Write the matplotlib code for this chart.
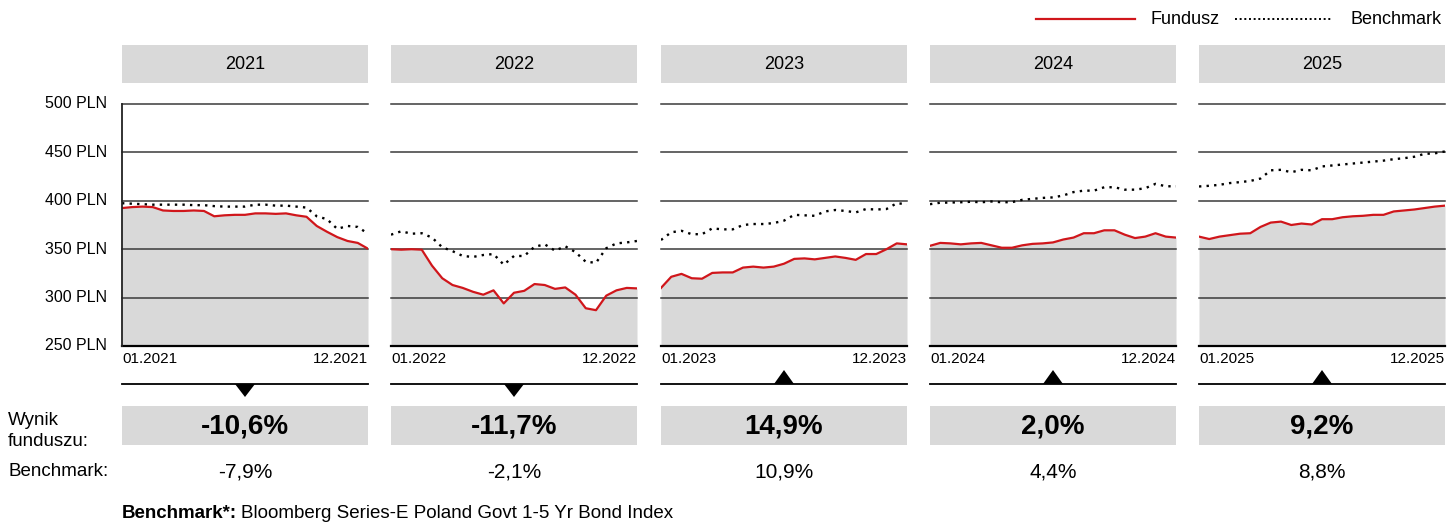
import numpy as np
import matplotlib
matplotlib.use('Agg')
import matplotlib.pyplot as plt
from matplotlib.patches import Rectangle, Polygon

plt.rcParams['font.family'] = ['Liberation Sans', 'DejaVu Sans']

# --- dane ---
years = ['2021', '2022', '2023', '2024', '2025']
start_labels = ['01.2021', '01.2022', '01.2023', '01.2024', '01.2025']
end_labels = ['12.2021', '12.2022', '12.2023', '12.2024', '12.2025']
fund_result = ['-10,6%', '-11,7%', '14,9%', '2,0%', '9,2%']
bench_result = ['-7,9%', '-2,1%', '10,9%', '4,4%', '8,8%']
y_ticks = [250, 300, 350, 400, 450, 500]

# co pół miesiąca (0 .. 12)
months = np.arange(0, 12.5, 0.5)

fund_2021 = [392.5, 393.5, 394, 393.5, 390, 389.5, 389.5, 390, 389.5, 384, 385, 385.5, 385.5,
             387, 387, 386.5, 387, 385, 383.5, 374, 368, 362.5, 358.5, 356.5, 350.5]
bench_2021 = [397.5, 397, 396.5, 396, 396, 396, 396, 395.5, 395.5, 394.5, 394, 394, 394,
              396, 396, 395, 395, 394, 393, 384, 381, 371, 374, 373, 366]

fund_2022 = [350, 349.5, 350, 349.5, 333, 320, 313, 310, 306, 303, 307.5, 294, 305,
             307, 314, 313, 309, 310.5, 303, 289, 287, 302, 307.5, 310, 309.5]
bench_2022 = [365, 368.5, 366, 366.5, 362, 352, 348, 343, 342, 344, 345, 334, 343,
              343, 352.5, 355, 348.5, 353, 347, 337, 336, 351, 356, 357, 358.5]

fund_2023 = [310, 321.5, 324.5, 320, 319.5, 325.5, 326, 326, 331, 332, 331, 332, 335,
             340, 340.5, 339.5, 341, 342.5, 341, 339, 345, 345, 350, 356, 355]
bench_2023 = [359.5, 367.5, 369, 365.5, 365.5, 371.5, 370.5, 370.5, 375, 376, 376, 377, 379.5,
              385.5, 385, 384.5, 389, 390.5, 389.5, 388, 391.5, 391, 391.5, 397.5, 396.5]

fund_2024 = [353.5, 356.5, 356, 355, 356, 356.5, 354, 351.5, 351.5, 354, 355.5, 356, 357,
             360, 362, 366.5, 366.5, 369.5, 369.5, 365, 361.5, 363, 366.5, 363, 362]
bench_2024 = [396.5, 398, 398.2, 398.5, 399, 398.5, 399.3, 398.5, 398.6, 401, 402, 403, 403.5,
              405.5, 409, 410.5, 410.5, 414, 414, 411.5, 411.5, 413, 417.5, 415, 415]

fund_2025 = [363, 360.5, 363, 364.5, 366, 366.5, 373, 377.5, 378.5, 375, 376.5, 375.5, 381,
             381, 383, 384, 384.5, 385.5, 385.5, 389, 390, 391, 392.5, 394, 395]
bench_2025 = [414.8, 415.5, 416.5, 418.3, 419.3, 420.5, 423, 431.5, 432, 429.5, 432, 431.5, 435.5,
              436.5, 437.5, 438.5, 439.5, 440.5, 441.5, 443, 444, 445.5, 448.5, 449, 451]

fund = [fund_2021, fund_2022, fund_2023, fund_2024, fund_2025]
bench = [bench_2021, bench_2022, bench_2023, bench_2024, bench_2025]

# --- układ (piksele) ---
W, H = 1447, 522
panel_x = [122, 391, 661, 930, 1199]
PW = 246
PLOT_TOP, PLOT_BOT = 104, 346
RED = '#d0161b'
GREY = '#d9d9d9'

fig = plt.figure(figsize=(W / 100, H / 100), dpi=100)
ov = fig.add_axes([0, 0, 1, 1], zorder=0)
ov.set_xlim(0, W)
ov.set_ylim(H, 0)
ov.axis('off')


def ypix(v):
    return PLOT_BOT - (v - 250) * (PLOT_BOT - PLOT_TOP) / 250


# legenda
ov.plot([1036, 1135], [19, 19], color=RED, lw=1.6)
ov.text(1150, 19, 'Fundusz', fontsize=13, va='center', ha='left')
ov.plot([1235, 1333], [19, 19], color='black', lw=1.4, ls=(0, (1, 1.4)))
ov.text(1350, 19, 'Benchmark', fontsize=13, va='center', ha='left')

# oś Y
for t in y_ticks:
    ov.text(107, ypix(t), f'{t} PLN', fontsize=11.5, ha='right', va='center')

for i, yr in enumerate(years):
    x0 = panel_x[i]
    cx = x0 + PW / 2

    ov.add_patch(Rectangle((x0, 45), PW, 38, color=GREY, lw=0))
    ov.text(cx, 64.5, yr, fontsize=13, ha='center', va='center')

    ax = fig.add_axes([x0 / W, 1 - PLOT_BOT / H, PW / W, (PLOT_BOT - PLOT_TOP) / H], zorder=1)
    ax.set_xlim(0, 12)
    ax.set_ylim(250, 500)
    ax.axis('off')
    ax.fill_between(months, fund[i], 250, color=GREY, lw=0, zorder=1)
    for t in y_ticks[1:]:
        ax.axhline(t, color='#3a3a3a', lw=1.1, zorder=2, clip_on=False)
    ax.axhline(250, color='black', lw=1.6, zorder=4, clip_on=False)
    if i == 0:
        ax.axvline(0, color='#222222', lw=1.3, zorder=4, clip_on=False)
    ax.plot(months, bench[i], color='black', lw=1.7, ls=(0, (1, 2.2)), zorder=3)
    ax.plot(months, fund[i], color=RED, lw=1.6, zorder=3)

    ov.text(x0, 359, start_labels[i], fontsize=11, ha='left', va='center')
    ov.text(x0 + PW, 359, end_labels[i], fontsize=11, ha='right', va='center')

    ov.plot([x0, x0 + PW], [384, 384], color='black', lw=1.3)
    if fund_result[i].startswith('-'):
        tri = [(cx - 10, 384), (cx + 10, 384), (cx, 397)]
    else:
        tri = [(cx - 10, 384), (cx + 10, 384), (cx, 370)]
    ov.add_patch(Polygon(tri, closed=True, color='black', lw=0))

    ov.add_patch(Rectangle((x0, 406), PW, 39, color=GREY, lw=0))
    ov.text(cx, 427, fund_result[i], fontsize=20, fontweight='bold', ha='center', va='center')
    ov.text(cx, 472, bench_result[i], fontsize=15, ha='center', va='center')

ov.text(8, 431, 'Wynik\nfunduszu:', fontsize=13.5, ha='left', va='center', linespacing=1.35)
ov.text(8, 472, 'Benchmark:', fontsize=13.5, ha='left', va='center')

# stopka
renderer = fig.canvas.get_renderer()
b = ov.text(122, 513, 'Benchmark*:', fontsize=13.5, fontweight='bold', ha='left', va='center')
bb = b.get_window_extent(renderer)
ov.text(bb.x1 + 4, H - 513, 'Bloomberg Series-E Poland Govt 1-5 Yr Bond Index', fontsize=13.5,
        ha='left', va='center', transform=None)

fig.savefig('out.png', dpi=100)
